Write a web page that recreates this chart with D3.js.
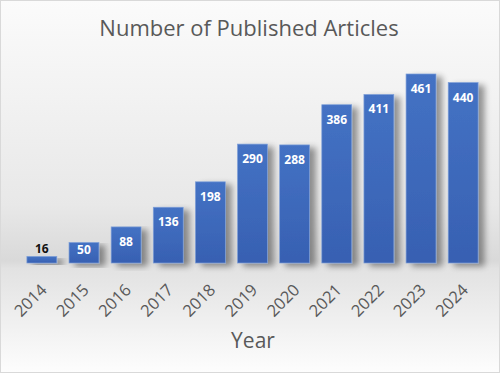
<!DOCTYPE html>
<html>
<head>
<meta charset="UTF-8">
<script src="https://d3js.org/d3.v7.min.js"></script>
<style>
  body { margin: 0; background: #fff; }
</style>
</head>
<body>
<svg id="chart" width="500" height="373"></svg>
<script>
// data
var years = ["2014", "2015", "2016", "2017", "2018", "2019", "2020", "2021", "2022", "2023", "2024"];
var articles = [16, 50, 88, 136, 198, 290, 288, 386, 411, 461, 440];

var svg = d3.select("#chart"),
    W = +svg.attr("width"),
    H = +svg.attr("height"),
    font = "'Open Sans', 'Noto Sans', sans-serif";

var defs = svg.append("defs");

// background: white at top, grey band behind the bar bottoms, fading back out
var bg = defs.append("linearGradient").attr("id", "bg")
    .attr("x1", 0).attr("y1", 0).attr("x2", 0).attr("y2", 1);
bg.append("stop").attr("offset", "0%").attr("stop-color", "#fbfbfb");
bg.append("stop").attr("offset", "20%").attr("stop-color", "#f4f4f4");
bg.append("stop").attr("offset", "55%").attr("stop-color", "#e8e8e8");
bg.append("stop").attr("offset", "70%").attr("stop-color", "#d9d9d9");
bg.append("stop").attr("offset", "72%").attr("stop-color", "#e2e2e2");
bg.append("stop").attr("offset", "100%").attr("stop-color", "#fdfdfd");

var barGrad = defs.append("linearGradient").attr("id", "bar")
    .attr("x1", 0).attr("y1", 0).attr("x2", 0).attr("y2", 1);
barGrad.append("stop").attr("offset", "0%").attr("stop-color", "#4472c4");
barGrad.append("stop").attr("offset", "100%").attr("stop-color", "#3760b2");

var shadow = defs.append("filter").attr("id", "shadow")
    .attr("x", "-50%").attr("y", "-10%").attr("width", "200%").attr("height", "130%");
shadow.append("feGaussianBlur").attr("in", "SourceAlpha").attr("stdDeviation", 3);
shadow.append("feOffset").attr("dx", 6).attr("dy", 3).attr("result", "b");
shadow.append("feComponentTransfer").append("feFuncA").attr("type", "linear").attr("slope", 0.4);
var merge = shadow.append("feMerge");
merge.append("feMergeNode");
merge.append("feMergeNode").attr("in", "SourceGraphic");

svg.append("rect")
    .attr("x", 0.5).attr("y", 0.5)
    .attr("width", W - 1).attr("height", H - 1)
    .attr("fill", "url(#bg)")
    .attr("stroke", "#d9d9d9");

var baseY = 263;

var x = d3.scaleBand()
    .domain(years)
    .range([21, 484])
    .paddingInner(0.29)
    .paddingOuter(0.14);

var y = d3.scaleLinear()
    .domain([0, 500])
    .range([baseY, baseY - 205]);

var g = svg.append("g");

g.selectAll("rect.bar")
    .data(articles)
    .enter().append("rect")
    .attr("class", "bar")
    .attr("x", function(d, i) { return x(years[i]); })
    .attr("y", function(d) { return y(d); })
    .attr("width", x.bandwidth())
    .attr("height", function(d) { return y(0) - y(d); })
    .attr("fill", "url(#bar)")
    .attr("stroke", "#7e9fd8")
    .attr("stroke-width", 0.7)
    .attr("filter", "url(#shadow)");

// labels sit inside the bar top; short bars squeeze them down, the tiny one goes above
g.selectAll("text.val")
    .data(articles)
    .enter().append("text")
    .attr("class", "val")
    .attr("x", function(d, i) { return x(years[i]) + x.bandwidth() / 2; })
    .attr("y", function(d) { return d < 30 ? y(d) - 3 : Math.min(y(d) + 19, baseY - 9); })
    .attr("text-anchor", "middle")
    .attr("font-family", font)
    .attr("font-size", 12)
    .attr("font-weight", "bold")
    .attr("fill", function(d) { return d < 30 ? "#111" : "#fff"; })
    .text(function(d) { return d; });

// x axis (no line, no ticks)
var xAxis = svg.append("g")
    .attr("transform", "translate(0," + baseY + ")")
    .call(d3.axisBottom(x).tickSize(0).tickPadding(0));
xAxis.select(".domain").remove();
xAxis.selectAll("text")
    .attr("font-family", font)
    .attr("font-size", 16.5)
    .attr("fill", "#595959")
    .attr("text-anchor", "end")
    .attr("dy", 0)
    .attr("transform", "translate(6,28) rotate(-45)");

svg.append("text")
    .attr("x", 249).attr("y", 36)
    .attr("text-anchor", "middle")
    .attr("font-family", font)
    .attr("font-size", 22)
    .attr("fill", "#595959")
    .text("Number of Published Articles");

svg.append("text")
    .attr("x", 253).attr("y", 348)
    .attr("text-anchor", "middle")
    .attr("font-family", font)
    .attr("font-size", 21)
    .attr("fill", "#595959")
    .text("Year");
</script>
</body>
</html>
